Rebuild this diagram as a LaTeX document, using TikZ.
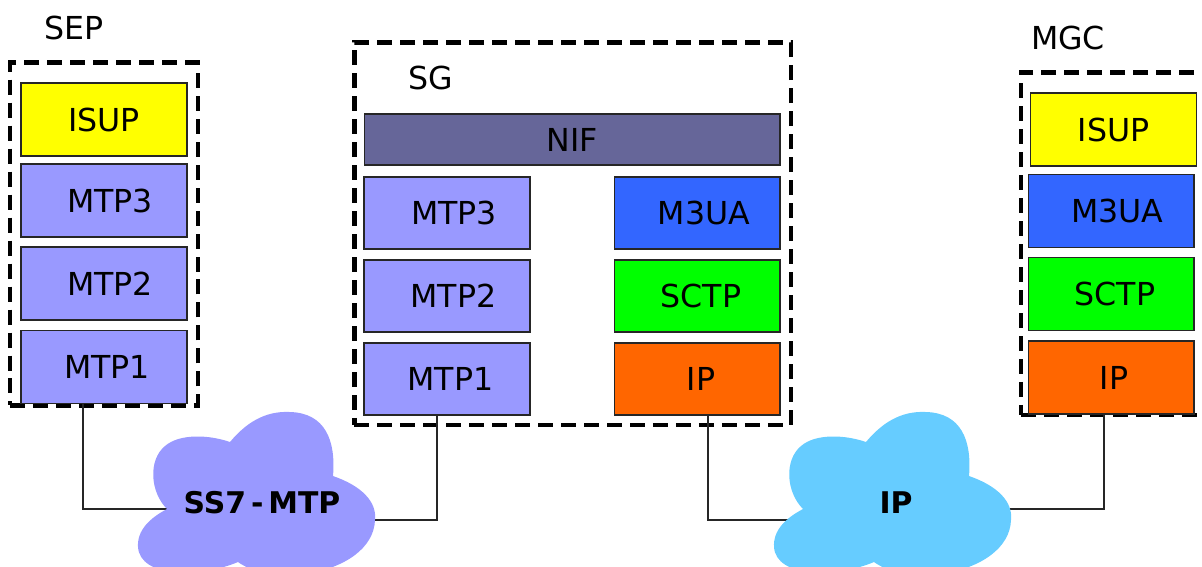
\documentclass[tikz,border=0pt]{standalone}
\usepackage{fontspec}
\setmainfont{DejaVu Sans}
\usepackage{tikz}
\usetikzlibrary{positioning}
\usetikzlibrary{calc}

\definecolor{isupyellow}{HTML}{FFFF00}
\definecolor{mtpblue}{HTML}{9999FF}
\definecolor{nifgray}{HTML}{666699}
\definecolor{muablue}{HTML}{3366FF}
\definecolor{sctpgreen}{HTML}{00FF00}
\definecolor{iporange}{HTML}{FF6600}
\definecolor{ipsky}{HTML}{66CCFF}

\newcommand{\nudge}[2]{\hspace*{#1}#2}

\tikzset{
  layer/.style={draw=black!85, line width=0.6pt, inner sep=0pt,
    minimum width=3.32cm, minimum height=1.46cm,
    font=\fontsize{18pt}{22pt}\selectfont},
  group/.style={draw, line width=2.8pt, dash pattern=on 0.3cm off 0.16cm,
    inner sep=0pt},
  tag/.style={font=\fontsize{18pt}{22pt}\selectfont, inner sep=0pt},
  cloudtag/.style={font=\bfseries\fontsize{17pt}{21pt}\selectfont, inner sep=0pt},
  link/.style={draw=black!85, line width=0.6pt},
}

\begin{document}
\begin{tikzpicture}[x=0.02cm, y=-0.02cm]
        \useasboundingbox (0,0) rectangle (1202,566);
        \clip (0,0) rectangle (1202,566);

        % dashed groups
        \node[group, minimum width=3.76cm, minimum height=6.86cm] (sep) at (104,234) {};
        \node[group, minimum width=8.74cm, minimum height=7.66cm] (sg) at (572.5,233.5) {};
        \node[group, minimum width=3.82cm, minimum height=6.86cm] (mgc) at (1116.5,243.5) {};
        \node[tag] (seplabel) at (74,28) {SEP};
        \node[tag] (sglabel) at (431,78) {SG};
        \node[tag] (mgclabel) at (1068,38) {MGC};

        % SEP stack
        \node[layer, fill=isupyellow] (sepisup) at (104,119.5) {ISUP};
        \node[layer, fill=mtpblue] (sepmtp3) at (104,200.5) {\nudge{0.24cm}{MTP3}};
        \node[layer, fill=mtpblue] (sepmtp2) at (104,283.5) {\nudge{0.24cm}{MTP2}};
        \node[layer, fill=mtpblue] (sepmtp1) at (104,367) {\nudge{0.12cm}{MTP1}};

        % SG stack
        \node[layer, fill=nifgray, minimum width=8.32cm, minimum height=1.02cm] (sgnif) at (572,139.5) {NIF};
        \node[layer, fill=mtpblue, minimum height=1.44cm] (sgmtp3) at (447,213) {\nudge{0.28cm}{MTP3}};
        \node[layer, fill=mtpblue, minimum height=1.44cm] (sgmtp2) at (447,296) {\nudge{0.26cm}{MTP2}};
        \node[layer, fill=mtpblue, minimum height=1.44cm] (sgmtp1) at (447,379) {\nudge{0.14cm}{MTP1}};
        \node[layer, fill=muablue, minimum height=1.44cm] (sgm3ua) at (697,213) {\nudge{0.28cm}{M3UA}};
        \node[layer, fill=sctpgreen, minimum height=1.44cm] (sgsctp) at (697,296) {\nudge{0.16cm}{SCTP}};
        \node[layer, fill=iporange, minimum height=1.44cm] (sgip) at (697,379) {\nudge{0.16cm}{IP}};

        % MGC stack
        \node[layer, fill=isupyellow] (mgcisup) at (1113.5,129.5) {ISUP};
        \node[layer, fill=muablue] (mgcm3ua) at (1111,211) {\nudge{0.26cm}{M3UA}};
        \node[layer, fill=sctpgreen] (mgcsctp) at (1111,294) {\nudge{0.16cm}{SCTP}};
        \node[layer, fill=iporange] (mgcip) at (1111,377.5) {\nudge{0.12cm}{IP}};

        % links into the clouds
        \coordinate (ss7w) at (175,509);
        \coordinate (ss7e) at (365,520);
        \coordinate (ipw) at (800,520);
        \coordinate (ipe) at (1000,509);
        \draw[link] (ss7w) -| ([xshift=-0.42cm]sepmtp1.south);
        \draw[link] (ss7e) -| ([xshift=-0.2cm]sgmtp1.south);
        \draw[link] (ipw) -| ([xshift=0.22cm]sgip.south);
        \draw[link] (ipe) -| ([xshift=-0.14cm]mgcip.south);

        % clouds
        \foreach \dx/\col in {0/mtpblue, 636/ipsky}
        {
          \fill[\col, xshift=\dx*0.02cm] (230,442)
            .. controls (250,418) and (270,411) .. (290,412)
            .. controls (325,413) and (336,440) .. (333,476)
            .. controls (362,486) and (377,502) .. (375,520)
            .. controls (374,548) and (345,568) .. (305,574)
            .. controls (275,578) and (252,572) .. (238,562)
            .. controls (200,578) and (140,578) .. (138,547)
            .. controls (137,530) and (150,518) .. (167,509)
            .. controls (150,492) and (148,460) .. (165,446)
            .. controls (180,433) and (210,435) .. (230,442) -- cycle;
        }
        \node[cloudtag] (ss7) at (262,503) {SS7\,-\,MTP};
        \node[cloudtag] (ipnet) at (896,503) {IP};
    \end{tikzpicture}
\end{document}
